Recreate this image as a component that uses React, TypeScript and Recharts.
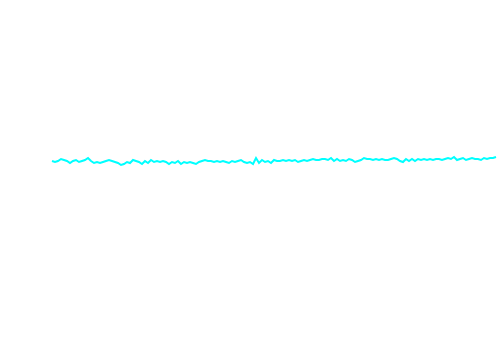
import { LineChart, Line, XAxis, YAxis } from "recharts";

// one reading per step, left to right
const levels: number[] = [
  191, 190, 191, 193, 192, 191, 189, 191, 192, 190,
  191, 192, 194, 191, 189, 190, 189, 190, 191, 192,
  191, 190, 189, 187, 188, 190, 189, 192, 191, 190,
  188, 191, 189, 192, 190, 191, 190, 191, 190, 188,
  190, 189, 191, 188, 190, 189, 190, 189, 188, 190,
  191, 192, 191, 191, 190, 191, 190, 191, 190, 189,
  191, 190, 191, 192, 190, 189, 190, 188, 194, 189,
  192, 190, 191, 189, 192, 191, 191, 192, 191, 192,
  191, 192, 190, 191, 192, 191, 192, 193, 192, 192,
  193, 193, 192, 194, 191, 193, 191, 192, 191, 193,
  192, 190, 191, 192, 194, 193, 193, 192, 193, 192,
  193, 192, 192, 193, 194, 193, 191, 190, 193, 191,
  193, 191, 193, 192, 193, 192, 193, 192, 193, 193,
  192, 193, 194, 193, 195, 192, 193, 194, 192, 193,
  194, 193, 193, 192, 194, 193, 194, 194, 195,
];

const data = levels.map((v, i) => ({ step: i, level: v }));

export default function App() {
  return (
    <div style={{ position: "absolute", left: 0, top: 0, background: "#fff" }}>
      <LineChart
        width={500}
        height={352}
        data={data}
        margin={{ top: 0, right: 4, left: 52, bottom: 0 }}
      >
        <XAxis dataKey="step" hide />
        <YAxis hide domain={[0, 352]} />
        <Line
          type="linear"
          dataKey="level"
          stroke="#00ffff"
          strokeWidth={2}
          dot={false}
          isAnimationActive={false}
        />
      </LineChart>
    </div>
  );
}
